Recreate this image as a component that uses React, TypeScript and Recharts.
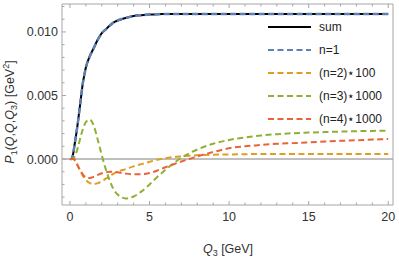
import { LineChart, Line, XAxis, YAxis, ReferenceLine } from "recharts";

const Q3 = [0, 0.1, 0.2, 0.3, 0.4, 0.5, 0.6, 0.7, 0.8, 0.9, 1, 1.25, 1.5, 1.75, 2, 2.25, 2.5, 2.75, 3, 3.5, 4, 4.5, 5, 5.5, 6, 6.5, 7, 7.5, 8, 9, 10, 11, 12, 13, 14, 15, 16, 17, 18, 19, 20];

// values in units of 1e-3 GeV^2
const SUM = [0, 0, 0.4, 1.2, 2.0, 2.9, 3.9, 4.9, 5.9, 6.6, 7.2, 8.1, 8.75, 9.4, 9.9, 10.2, 10.5, 10.75, 10.9, 11.1, 11.25, 11.32, 11.37, 11.4, 11.41, 11.42, 11.42, 11.42, 11.42, 11.42, 11.42, 11.42, 11.42, 11.42, 11.42, 11.42, 11.42, 11.42, 11.42, 11.42, 11.42];
const N1 = [0, 0, 0.4, 1.2, 2.0, 2.9, 3.9, 4.9, 5.9, 6.6, 7.2, 8.1, 8.75, 9.4, 9.9, 10.2, 10.5, 10.75, 10.9, 11.1, 11.25, 11.32, 11.37, 11.4, 11.41, 11.42, 11.42, 11.42, 11.42, 11.42, 11.42, 11.42, 11.42, 11.42, 11.42, 11.42, 11.42, 11.42, 11.42, 11.42, 11.42];
const N2 = [0, 0, 0, -0.1, -0.3, -0.55, -0.8, -1.05, -1.3, -1.5, -1.65, -1.9, -1.97, -1.9, -1.75, -1.55, -1.35, -1.15, -1.0, -0.8, -0.58, -0.4, -0.22, -0.06, 0.06, 0.15, 0.21, 0.26, 0.3, 0.34, 0.36, 0.38, 0.39, 0.4, 0.4, 0.4, 0.4, 0.4, 0.4, 0.4, 0.4];
const N3 = [0, 0, 0.05, 0.2, 0.5, 0.9, 1.4, 1.9, 2.3, 2.65, 2.9, 3.1, 2.6, 1.5, 0.3, -0.8, -1.7, -2.4, -2.8, -3.1, -2.95, -2.55, -2.0, -1.4, -0.85, -0.35, 0.1, 0.45, 0.75, 1.2, 1.5, 1.7, 1.85, 1.95, 2.03, 2.08, 2.12, 2.16, 2.19, 2.21, 2.23];
const N4 = [0, 0, 0, -0.05, -0.3, -0.55, -0.8, -1.0, -1.2, -1.35, -1.45, -1.5, -1.4, -1.25, -1.12, -1.05, -1.0, -1.0, -1.05, -1.15, -1.2, -1.2, -1.1, -0.9, -0.65, -0.42, -0.2, 0.0, 0.2, 0.55, 0.85, 1.0, 1.1, 1.2, 1.25, 1.31, 1.37, 1.43, 1.48, 1.53, 1.57];

const X_TICKS = [0, 1, 2, 3, 4, 5, 6, 7, 8, 9, 10, 11, 12, 13, 14, 15, 16, 17, 18, 19, 20];
const Y_TICKS = [-3, -2, -1, 0, 1, 2, 3, 4, 5, 6, 7, 8, 9, 10, 11, 12].map((v) => v / 1000);

const SERIES = [
  { key: "sum", name: "sum", color: "#000000", dashed: false },
  { key: "n1", name: "n=1", color: "#5e81b5", dashed: true },
  { key: "n2", name: "(n=2)⋆100", color: "#e19c24", dashed: true },
  { key: "n3", name: "(n=3)⋆1000", color: "#8fb032", dashed: true },
  { key: "n4", name: "(n=4)⋆1000", color: "#eb6235", dashed: true },
];

const data = Q3.map((q, i) => ({
  q,
  sum: SUM[i] / 1000,
  n1: N1[i] / 1000,
  n2: N2[i] / 1000,
  n3: N3[i] / 1000,
  n4: N4[i] / 1000,
}));

const FRAME = "#a6a6a6";
const FONT = "'Liberation Sans', Arial, sans-serif";
const DASH = "6 3.5";
const X_DOMAIN = [-0.5, 20.3];
const Y_DOMAIN = [-0.00362, 0.0122];

const isMajorX = (v: number) => Math.round(v) % 5 === 0;
const isMajorY = (v: number) => Math.round(v * 1000) % 5 === 0;

function BottomTick({ x, y, payload }: any) {
  const major = isMajorX(payload.value);
  return (
    <g>
      <line x1={x} x2={x} y1={y} y2={y - (major ? 4 : 2.5)} stroke={FRAME} />
      {major && (
        <text x={x} y={y + 16} textAnchor="middle" fontSize={12.5} fontFamily={FONT} fill="#333">
          {payload.value}
        </text>
      )}
    </g>
  );
}

function TopTick({ x, y, payload }: any) {
  const major = isMajorX(payload.value);
  return <line x1={x} x2={x} y1={y} y2={y + (major ? 4 : 2.5)} stroke={FRAME} />;
}

function LeftTick({ x, y, payload }: any) {
  const major = isMajorY(payload.value);
  return (
    <g>
      <line x1={x} x2={x + (major ? 4 : 2.5)} y1={y} y2={y} stroke={FRAME} />
      {major && (
        <text x={x - 4} y={y + 4.5} textAnchor="end" fontSize={12.5} fontFamily={FONT} fill="#333">
          {payload.value.toFixed(3)}
        </text>
      )}
    </g>
  );
}

function RightTick({ x, y, payload }: any) {
  const major = isMajorY(payload.value);
  return <line x1={x} x2={x - (major ? 4 : 2.5)} y1={y} y2={y} stroke={FRAME} />;
}

function LegendBox() {
  return (
    <div style={{ position: "absolute", left: 268, top: 15, fontFamily: FONT, fontSize: 12, color: "#222" }}>
      {SERIES.map((s) => (
        <div key={s.key} style={{ display: "flex", alignItems: "center", height: 23 }}>
          <svg width={43} height={4} style={{ marginRight: 8 }}>
            <line x1={0} x2={43} y1={2} y2={2} stroke={s.color} strokeWidth={2} strokeDasharray={s.dashed ? DASH : undefined} />
          </svg>
          <span>{s.name}</span>
        </div>
      ))}
    </div>
  );
}

export default function App() {
  return (
    <div style={{ position: "absolute", left: 0, top: 0, width: 399, height: 258, background: "#fff" }}>
      <LineChart width={399} height={258} data={data} margin={{ top: 3, right: 5, bottom: 0, left: 0 }}>
        <XAxis
          xAxisId="b"
          dataKey="q"
          type="number"
          domain={X_DOMAIN}
          ticks={X_TICKS}
          interval={0}
          tickSize={0}
          tickMargin={0}
          height={53}
          stroke={FRAME}
          tick={<BottomTick />}
          label={{
            content: () => (
              <text x={228} y={253} textAnchor="middle" fontSize={12.5} fontFamily={FONT} fill="#333">
                <tspan fontStyle="italic">Q</tspan>
                <tspan fontSize={9} dy={3}>3</tspan>
                <tspan dy={-3}> [GeV]</tspan>
              </text>
            ),
          }}
        />
        <XAxis
          xAxisId="t"
          dataKey="q"
          type="number"
          orientation="top"
          domain={X_DOMAIN}
          ticks={X_TICKS}
          interval={0}
          tickSize={0}
          tickMargin={0}
          height={1}
          stroke={FRAME}
          tick={<TopTick />}
        />
        <YAxis
          yAxisId="l"
          type="number"
          domain={Y_DOMAIN}
          ticks={Y_TICKS}
          interval={0}
          tickSize={0}
          tickMargin={0}
          width={62}
          stroke={FRAME}
          tick={<LeftTick />}
          label={{
            content: () => (
              <text x={14} y={112} transform="rotate(-90 14 112)" textAnchor="middle" fontSize={12.5} fontFamily={FONT} fill="#333">
                <tspan fontStyle="italic">P</tspan>
                <tspan fontSize={9} dy={3}>1</tspan>
                <tspan dy={-3}>(</tspan>
                <tspan fontStyle="italic">Q</tspan>
                <tspan>,</tspan>
                <tspan fontStyle="italic">Q</tspan>
                <tspan>,</tspan>
                <tspan fontStyle="italic">Q</tspan>
                <tspan fontSize={9} dy={3}>3</tspan>
                <tspan dy={-3}>) [GeV</tspan>
                <tspan fontSize={9} dy={-5}>2</tspan>
                <tspan dy={5}>]</tspan>
              </text>
            ),
          }}
        />
        <YAxis
          yAxisId="r"
          orientation="right"
          type="number"
          domain={Y_DOMAIN}
          ticks={Y_TICKS}
          interval={0}
          tickSize={0}
          tickMargin={0}
          width={1}
          stroke={FRAME}
          tick={<RightTick />}
        />
        <ReferenceLine xAxisId="b" yAxisId="l" y={0} stroke="#808080" strokeWidth={1} />
        {SERIES.map((s) => (
          <Line
            key={s.key}
            xAxisId="b"
            yAxisId="l"
            type="monotone"
            dataKey={s.key}
            name={s.name}
            stroke={s.color}
            strokeWidth={s.key === "n1" ? 2.5 : 2}
            strokeDasharray={s.dashed ? DASH : undefined}
            dot={false}
            isAnimationActive={false}
          />
        ))}
      </LineChart>
      <LegendBox />
    </div>
  );
}
